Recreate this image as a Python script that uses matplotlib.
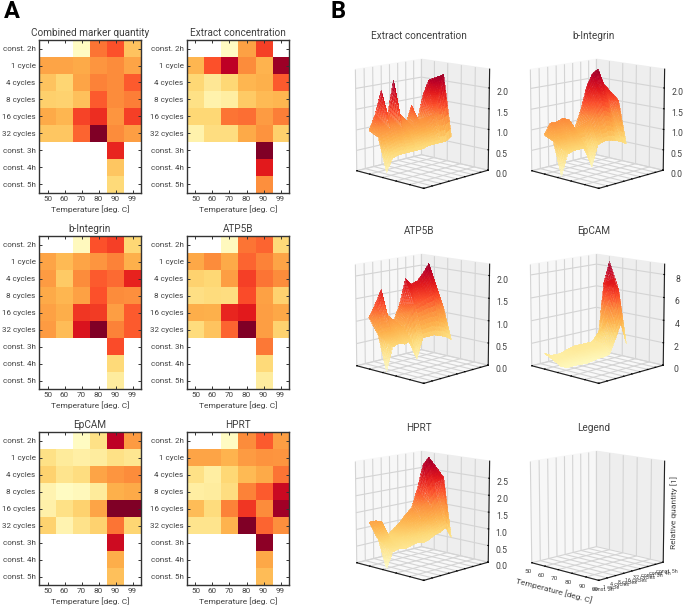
import matplotlib

matplotlib.use("Agg")

import matplotlib.pyplot as plt
import matplotlib.tri as mtri
import numpy as np

plt.rcParams["font.family"] = ["Roboto", "DejaVu Sans"]

temperatures = [50, 60, 70, 80, 90, 99]
conditions = ["const. 2h", "1 cycle", "4 cycles", "8 cycles", "16 cycles",
              "32 cycles", "const. 3h", "const. 4h", "const. 5h"]
n = np.nan

# heatmap levels, 0 = lowest, 1 = highest in the panel
heat_combined = [[n, n, .03, .55, .62, .32],
                 [.42, .42, .40, .47, .50, .42],
                 [.32, .26, .42, .52, .50, .60],
                 [.28, .27, .33, .60, .50, .53],
                 [.40, .36, .65, .70, .47, .66],
                 [.31, .31, .58, 1, .50, .44],
                 [n, n, n, n, .72, n],
                 [n, n, n, n, .31, n],
                 [n, n, n, n, .24, n]]
heat_extract = [[n, n, .03, .43, .66, n],
                [.36, .62, .87, .50, .37, .94],
                [.25, .16, .25, .36, .38, .60],
                [.20, .09, .12, .30, .35, .36],
                [.25, .25, .55, .56, .45, .53],
                [.09, .22, .22, .40, .48, .28],
                [n, n, n, n, 1, n],
                [n, n, n, n, .75, n],
                [n, n, n, n, .49, n]]
heat_integrin = [[n, n, .04, .62, .66, .25],
                 [.42, .35, .42, .47, .52, .38],
                 [.45, .30, .50, .60, .57, .73],
                 [.40, .36, .43, .62, .50, .49],
                 [.43, .39, .68, .67, .44, .60],
                 [.45, .34, .78, 1, .52, .60],
                 [n, n, n, n, .63, n],
                 [n, n, n, n, .24, n],
                 [n, n, n, n, .13, n]]
heat_atp5b = [[n, n, .04, .55, .58, .24],
              [.41, .50, .40, .58, .52, .42],
              [.27, .25, .44, .66, .55, .50],
              [.21, .23, .22, .63, .43, .27],
              [.39, .38, .72, .75, .44, .41],
              [.23, .32, .58, 1, .44, .27],
              [n, n, n, n, .54, n],
              [n, n, n, n, .24, n],
              [n, n, n, n, .13, n]]
heat_epcam = [[n, n, .03, .20, .87, .45],
              [.20, .14, .11, .13, .20, .17],
              [.27, .18, .22, .42, .47, .50],
              [.08, .03, .05, .14, .38, .40],
              [.10, .20, .27, .42, 1, 1],
              [.27, .08, .19, .27, .55, .26],
              [n, n, n, n, .82, n],
              [n, n, n, n, .39, n],
              [n, n, n, n, .33, n]]
heat_hprt = [[n, n, .03, .50, .60, .44],
             [.42, .42, .37, .45, .48, .47],
             [.20, .12, .25, .35, .40, .55],
             [.12, .13, .22, .52, .60, .83],
             [.34, .23, .52, .68, .50, .93],
             [.18, .18, .37, 1, .58, .49],
             [n, n, n, n, .97, n],
             [n, n, n, n, .41, n],
             [n, n, n, n, .34, n]]

# surface heights read along the long side: back, middle and front rows
surf_extract = [[1.05, 1.4, 1.95, 1.35, 2.15, 1.3, 1.0, 1.45, 1.05, 1.65, 2.0, 1.2],
                [.95, 1.0, 1.05, 1.1, 1.0, .9, .95, 1.0, 1.05, 1.2, 1.6, 2.15],
                [.15, .45, .5, .5, .5, .5, .5, .55, .55, .55, .55, .65]]
surf_integrin = [[.95, 1.2, 1.2, 1.25, 1.2, .95, 1.35, 1.9, 2.2, 2.3, 1.9, 1.5],
                 [.85, .9, .9, .95, .9, .9, 1.15, 1.4, 1.6, 1.5, 1.1, 1.5],
                 [.05, .55, .6, .6, .6, .1, .6, .65, .65, .6, .55, .45]]
surf_atp5b = [[1.15, 1.4, 1.7, 1.1, .95, 1.3, 1.85, 1.7, 1.75, 1.9, 2.1, 1.4],
              [.8, .85, .85, .8, .85, 1.15, 1.3, 1.35, 1.4, 1.45, 1.3, 1.1],
              [.05, .55, .6, .55, .6, .15, .6, .6, .6, .55, .5, .4]]
surf_epcam = [[1.4, 1.1, 1.0, 1.1, 1.3, 1.4, 1.4, 1.4, 1.4, 1.5, 6.5, 8.4],
              [1.0, 1.0, 1.0, 1.1, 1.2, 1.2, 1.2, 1.3, 1.2, 3.5, 7.0, 6.0],
              [.6, .4, .4, .4, .3, .4, .5, .5, .6, 1.8, 3.2, 1.2]]
surf_hprt = [[1.3, 1.3, 1.25, .8, .95, 1.1, 1.3, 1.45, 2.0, 2.7, 2.9, 2.1],
             [.85, .85, .75, .75, .85, .95, 1.05, 1.15, 1.3, 1.4, 1.6, 2.3],
             [.05, .5, .55, .5, .55, .6, .55, .6, .7, .75, .85, .5]]

TEXT = "#404040"
HEAT_X = [39 / 685, 187 / 685]
HEAT_Y = [(610 - 193) / 610, (610 - 389) / 610, (610 - 585) / 610]
# centre of each 3d box in pixels
SURF_CX = [420, 595]
SURF_CY = [123, 318, 515]
SURF_SIZE = 190

fig = plt.figure(figsize=(6.85, 6.10), dpi=100)


def draw_heatmap(col, row, title, values):
    ax = fig.add_axes([HEAT_X[col], HEAT_Y[row], 102 / 685, 153 / 610])
    cmap = plt.get_cmap("YlOrRd").copy()
    cmap.set_bad("white")
    ax.imshow(np.array(values), cmap=cmap, vmin=0, vmax=1, aspect="auto",
              interpolation="nearest")
    ax.set_xticks(range(len(temperatures)), temperatures)
    ax.set_yticks(range(len(conditions)), conditions)
    ax.tick_params(direction="in", top=True, right=True, length=2, width=.7,
                   labelsize=5.8, labelcolor=TEXT, color="#333333", pad=2.5)
    for spine in ax.spines.values():
        spine.set_color("#333333")
        spine.set_linewidth(1.0)
    ax.set_title(title, fontsize=7.2, color=TEXT, pad=3)
    ax.set_xlabel("Temperature [deg. C]", fontsize=6.0, color=TEXT, labelpad=2)


def add_box(col, row, title):
    cx, cy = SURF_CX[col], SURF_CY[row]
    ax = fig.add_axes([(cx - SURF_SIZE / 2) / 685, 1 - (cy + SURF_SIZE / 2) / 610,
                       SURF_SIZE / 685, SURF_SIZE / 610], projection="3d")
    ax.patch.set_alpha(0)
    ax.view_init(elev=12, azim=-46)
    ax.set_box_aspect((4, 4, 4.4), zoom=0.86)
    ax.xaxis.set_pane_color("#f7f7f7")
    ax.yaxis.set_pane_color("#eeeeee")
    ax.zaxis.set_pane_color("#f9f9f9")
    for axis in (ax.xaxis, ax.yaxis, ax.zaxis):
        axis._axinfo["grid"]["color"] = "#d4d4d4"
        axis._axinfo["grid"]["linewidth"] = .8
        axis._axinfo["tick"]["inward_factor"] = 0
        axis._axinfo["tick"]["outward_factor"] = .1
        axis.line.set_color("#222222")
    fig.text((cx - 1) / 685, 1 - (cy - 87) / 610, title, fontsize=7.2, color=TEXT,
             ha="center", va="center")
    return ax


def draw_surface(col, row, title, heights, z_max, z_ticks):
    ax = add_box(col, row, title)
    heights = np.array(heights)
    # long side runs across the whole y range, short side only part of x
    x_pos = np.array([.2, .34, .46])
    y_pos = np.linspace(0, 1, heights.shape[1])
    xx, yy = np.meshgrid(x_pos, y_pos, indexing="ij")
    grid = mtri.Triangulation(xx.ravel(), yy.ravel())
    interp = mtri.LinearTriInterpolator(grid, heights.ravel())
    fine, fine_z = mtri.UniformTriRefiner(grid).refine_field(
        heights.ravel(), triinterpolator=interp, subdiv=3)
    ax.plot_trisurf(fine, fine_z, cmap="YlOrRd", vmin=0, vmax=heights.max() * 1.05,
                    alpha=.62, linewidth=0, antialiased=False, shade=False)
    ax.set_xlim(0, 1)
    ax.set_ylim(0, 1)
    ax.set_zlim(0, z_max)
    ax.set_xticks(np.linspace(0, 1, 6), [""] * 6)
    ax.set_yticks(np.linspace(0, 1, 9), [""] * 9)
    ax.set_zticks(z_ticks, [f"{t:.1f}" if z_max < 5 else f"{t:d}" for t in z_ticks])
    ax.tick_params(axis="z", labelsize=6.2, labelcolor=TEXT, pad=-1)


def draw_legend(col, row):
    ax = add_box(col, row, "Legend")
    ax.set_xlim(50, 99)
    ax.set_ylim(0, 8)
    ax.set_zlim(0, 1)
    ax.set_xticks(temperatures, temperatures)
    ax.set_yticks(range(len(conditions)), conditions)
    ax.set_zticks([])
    ax.tick_params(axis="x", labelsize=4.6, labelcolor=TEXT, pad=-4)
    ax.tick_params(axis="y", labelsize=3.8, labelcolor=TEXT, pad=-4)
    ax.set_xlabel("Temperature [deg. C]", fontsize=6.0, color=TEXT, labelpad=-10)
    ax.set_zlabel("Relative quantity [1]", fontsize=6.0, color=TEXT, labelpad=-16)


draw_heatmap(0, 0, "Combined marker quantity", heat_combined)
draw_heatmap(1, 0, "Extract concentration", heat_extract)
draw_heatmap(0, 1, "b-Integrin", heat_integrin)
draw_heatmap(1, 1, "ATP5B", heat_atp5b)
draw_heatmap(0, 2, "EpCAM", heat_epcam)
draw_heatmap(1, 2, "HPRT", heat_hprt)

half_steps = [0.0, 0.5, 1.0, 1.5, 2.0]
draw_surface(0, 0, "Extract concentration", surf_extract, 2.45, half_steps)
draw_surface(1, 0, "b-Integrin", surf_integrin, 2.45, half_steps)
draw_surface(0, 1, "ATP5B", surf_atp5b, 2.25, half_steps)
draw_surface(1, 1, "EpCAM", surf_epcam, 8.9, [0, 2, 4, 6, 8])
draw_surface(0, 2, "HPRT", surf_hprt, 3.0, half_steps + [2.5])
draw_legend(1, 2)

fig.text(4 / 685, 1 - 18 / 610, "A", fontsize=17, fontweight="bold", color="black")
fig.text(330 / 685, 1 - 18 / 610, "B", fontsize=17, fontweight="bold", color="black")

fig.savefig("out.png", dpi=100)
